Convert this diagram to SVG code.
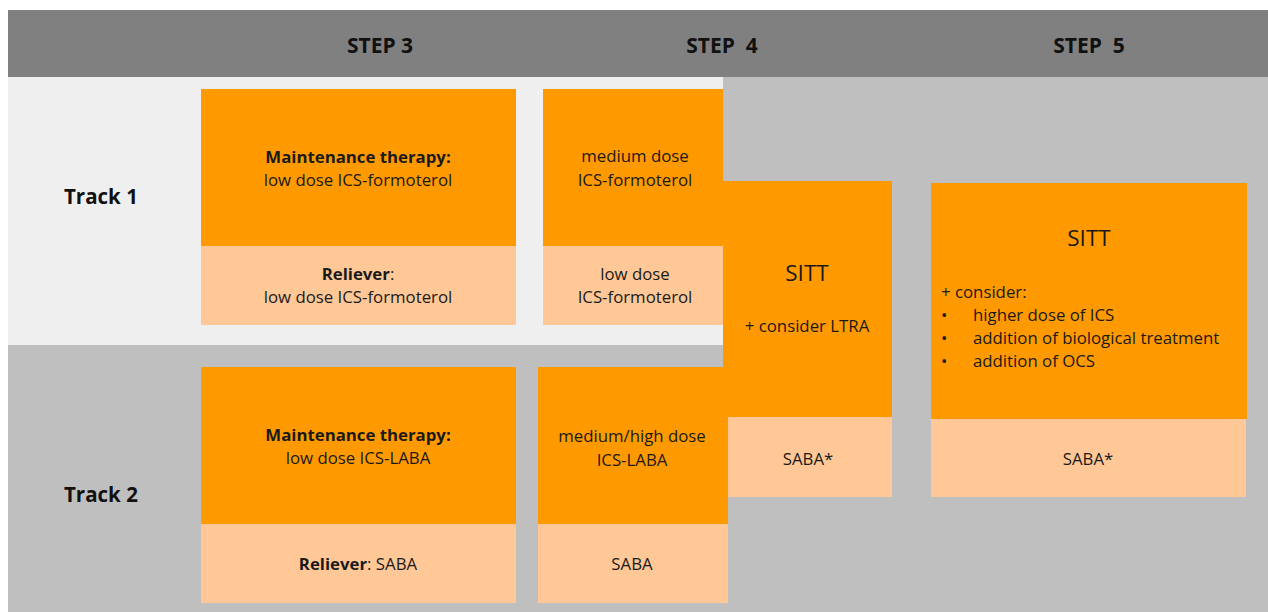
<svg xmlns="http://www.w3.org/2000/svg" width="1268" height="612" viewBox="0 0 1268 612">
  <style>
    .hdr { fill: #808080; }
    .band1 { fill: #efefef; }
    .band2 { fill: #bfbfbf; }
    .main { fill: #ff9900; }
    .rel { fill: #ffc896; }
    text { font-family: "Open Sans", "Noto Sans", sans-serif; fill: #1a1a1a; font-size: 16.8px; }
    .step { font-weight: bold; font-size: 21px; text-anchor: middle; white-space: pre; fill: #111; }
    .track { font-weight: bold; font-size: 20.5px; fill: #111; }
    .c { text-anchor: middle; }
    .b { font-weight: bold; }
    .big { font-size: 22.5px; text-anchor: middle; }
  </style>

  <!-- background bands -->
  <g id="background">
    <rect x="0" y="0" width="1268" height="612" fill="#ffffff"/>
    <rect class="hdr" x="8" y="10" width="1260" height="67"/>
    <rect class="band2" x="8" y="77" width="1260" height="535"/>
    <rect class="band1" x="8" y="77" width="715" height="268"/>
  </g>

  <!-- column headers -->
  <g id="headers">
    <text class="step" x="380" y="53">STEP 3</text>
    <text class="step" x="722" y="53">STEP  4</text>
    <text class="step" x="1089" y="53">STEP  5</text>
  </g>

  <!-- row labels -->
  <g id="tracks">
    <text class="track" x="64" y="204">Track 1</text>
    <text class="track" x="64" y="502">Track 2</text>
  </g>

  <!-- Step 3, Track 1 -->
  <g id="s3t1">
    <rect class="main" x="201" y="89" width="315" height="157"/>
    <rect class="rel" x="201" y="246" width="315" height="79"/>
    <text class="c b" x="358" y="163">Maintenance therapy:</text>
    <text class="c" x="358" y="186">low dose ICS-formoterol</text>
    <text class="c" x="358" y="280"><tspan class="b">Reliever</tspan>:</text>
    <text class="c" x="358" y="303">low dose ICS-formoterol</text>
  </g>

  <!-- Step 4, Track 1 -->
  <g id="s4t1">
    <rect class="main" x="543" y="89" width="180" height="157"/>
    <rect class="rel" x="543" y="246" width="180" height="79"/>
    <text class="c" x="635" y="162">medium dose</text>
    <text class="c" x="635" y="186">ICS-formoterol</text>
    <text class="c" x="635" y="280">low dose</text>
    <text class="c" x="635" y="303">ICS-formoterol</text>
  </g>

  <!-- Step 4, shared SITT -->
  <g id="s4sitt">
    <rect class="main" x="723" y="181" width="169" height="236"/>
    <rect class="rel" x="728" y="417" width="164" height="80"/>
    <text class="big" x="807" y="281">SITT</text>
    <text class="c" x="807" y="332">+ consider  LTRA</text>
    <text class="c" x="808" y="465">SABA*</text>
  </g>

  <!-- Step 3, Track 2 -->
  <g id="s3t2">
    <rect class="main" x="201" y="367" width="315" height="157"/>
    <rect class="rel" x="201" y="524" width="315" height="79"/>
    <text class="c b" x="358" y="441">Maintenance therapy:</text>
    <text class="c" x="358" y="464">low dose ICS-LABA</text>
    <text class="c" x="358" y="570"><tspan class="b">Reliever</tspan>: SABA</text>
  </g>

  <!-- Step 4, Track 2 -->
  <g id="s4t2">
    <rect class="main" x="538" y="367" width="190" height="157"/>
    <rect class="rel" x="538" y="524" width="190" height="79"/>
    <text class="c" x="632" y="442">medium/high dose</text>
    <text class="c" x="632" y="466">ICS-LABA</text>
    <text class="c" x="632" y="570">SABA</text>
  </g>

  <!-- Step 5 -->
  <g id="s5">
    <rect class="main" x="931" y="183" width="316" height="236"/>
    <rect class="rel" x="931" y="419" width="315" height="78"/>
    <text class="big" x="1089" y="246">SITT</text>
    <text x="941" y="298">+ consider:</text>
    <text x="941" y="321">•</text>
    <text x="973" y="321">higher dose of ICS</text>
    <text x="941" y="344">•</text>
    <text x="973" y="344">addition of biological treatment</text>
    <text x="941" y="367">•</text>
    <text x="973" y="367">addition of OCS</text>
    <text class="c" x="1088" y="465">SABA*</text>
  </g>
</svg>
